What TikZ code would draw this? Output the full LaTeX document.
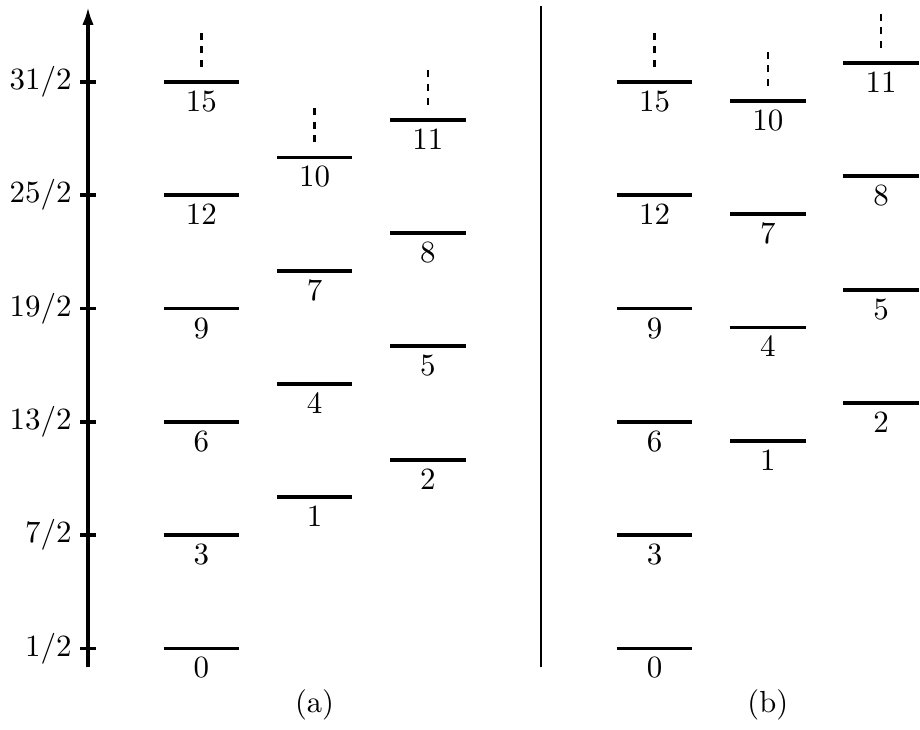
\documentclass[tikz,border=0pt]{standalone}
\usepackage{tikz}
\usetikzlibrary{arrows.meta}

\begin{document}
\begin{tikzpicture}[x=0.47cm, y=0.47cm, font=\fontsize{10.8}{13}\selectfont,
  lvl/.style={line width=1.35pt},
  lab/.style={below, inner sep=2.7pt},
  tickmark/.style={line width=1.3pt},
  more/.style={line width=0.9pt, dash pattern=on 2.5pt off 2.3pt}]
            \useasboundingbox (-2.33,-1.64) rectangle (22.03,17.67);
            % energy axis
            \draw[line width=1.7pt, -{Latex[length=6.5pt, width=4pt]}] (0,0) coordinate (ax0) -- (0,17.5) coordinate (ax1);
            \foreach \t in {1,7,13,19,25,31} {
                \draw[tickmark] (-0.21,\t/2) -- (0.21,\t/2);
                \node[left, inner sep=2.8pt] (t\t) at (-0.21,\t/2) {$\t/2$};
            }
            % separator
            \draw[line width=0.8pt] (12,0) coordinate (s0) -- (12,17.5) coordinate (s1);
            % (a)
            \foreach \n/\x/\y in {0/3/0.5, 3/3/3.5, 6/3/6.5, 9/3/9.5, 12/3/12.5, 15/3/15.5,
                                  1/6/4.5, 4/6/7.5, 7/6/10.5, 10/6/13.5,
                                  2/9/5.5, 5/9/8.5, 8/9/11.5, 11/9/14.5} {
                \draw[lvl] (\x-1,\y) -- (\x+1,\y) node[lab, midway] (a\n) {$\n$};
            }
            % (b)
            \foreach \n/\x/\y in {0/15/0.5, 3/15/3.5, 6/15/6.5, 9/15/9.5, 12/15/12.5, 15/15/15.5,
                                  1/18/6, 4/18/9, 7/18/12, 10/18/15,
                                  2/21/7, 5/21/10, 8/21/13, 11/21/16} {
                \draw[lvl] (\x-1,\y) -- (\x+1,\y) node[lab, midway] (b\n) {$\n$};
            }
            % continuation
            \foreach \x/\y in {3/15.5, 6/13.5, 9/14.5, 15/15.5, 18/15, 21/16} {
                \draw[more] (\x,\y+0.4) -- (\x,\y+1.33);
            }
            \node (capa) at (6,-1) {(a)};
            \node (capb) at (18,-1) {(b)};
        \end{tikzpicture}
\end{document}
